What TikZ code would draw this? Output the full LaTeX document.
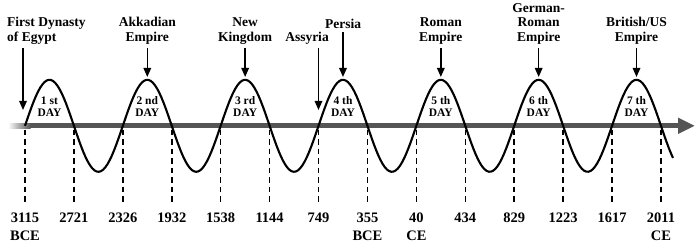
\documentclass[tikz,border=0pt]{standalone}
\usepackage{fontspec}
\setmainfont{Liberation Serif}
\usetikzlibrary{arrows.meta}

\definecolor{axisgray}{RGB}{85,85,85}

\tikzset{
  era/.style={font=\bfseries\fontsize{13.5}{14.5}\selectfont,align=center,inner sep=0pt,anchor=south},
  daylbl/.style={font=\bfseries\fontsize{11.5}{12.5}\selectfont,align=center,inner sep=0pt,anchor=south},
  yearlbl/.style={font=\bfseries\fontsize{14.5}{17.5}\selectfont,align=center,inner sep=0pt,anchor=north},
  pointer/.style={line width=1.5pt,shorten <=4pt,-{Triangle[length=9pt,width=7.5pt]}},
  tick/.style={line width=1.5pt,dash pattern=on 5.5pt off 4pt,shorten >=8pt},
  wave/.style={line width=2.1pt},
  axisline/.style={axisgray,line width=5pt,-{Triangle[length=17pt,width=15pt]}}
}

\begin{document}
\begin{tikzpicture}[x=1pt,y=-1pt]
\useasboundingbox (0,0) rectangle (700,251);

% time axis
\coordinate (ax0) at (30,125.8);
\coordinate (ax1) at (695,125.8);
\shade[left color=white,right color=axisgray] (8,123.3) rectangle (30.5,128.3);
\draw[axisline] (ax0) -- (ax1);

% the seven days (half period 48.92)
\draw[wave] plot[domain=25:673,samples=300] (\x,{125.8-46*sin(3.6795*(\x-25))});

% years under the crossings
\foreach \yr [count=\i from 0] in {{3115\\BCE},2721,2326,1932,1538,1144,749,{355\\BCE},{40\\CE},434,829,1223,1617,{2011\\CE}} {
  \coordinate (c\i) at ({25+48.92*\i},129.5);
  \node[yearlbl] (y\i) at ({25+48.92*\i},213) {\yr};
  \draw[tick] (c\i) -- (y\i.north);
}

% day labels and peaks
\foreach \s [count=\i from 1] in {st,nd,rd,th,th,th,th} {
  \coordinate (p\i) at ({49.46+97.84*(\i-1)},77);
  \node[daylbl] (d\i) at ({49.46+97.84*(\i-1)},117) {\i\ \s\\DAY};
}

% empires
\node[era,anchor=south west,align=left] (egypt) at (7,44.5) {First Dynasty\\of Egypt};
\node[era] (akkad) at (147.3,44.5) {Akkadian\\Empire};
\node[era] (newk) at (245.1,44.5) {New\\Kingdom};
\node[era] (assyria) at (307,44.5) {Assyria};
\node[era] (persia) at (343,28.5) {Persia};
\node[era] (rome) at (440.8,44.5) {Roman\\Empire};
\node[era] (german) at (538.7,44.5) {German-\\Roman\\Empire};
\node[era] (british) at (636.5,44.5) {British/US\\Empire};

\coordinate (t0) at (23,110);
\coordinate (t3) at (318.5,110);
\draw[pointer] (egypt.south -| t0) -- (t0);
\draw[pointer] (assyria.south -| t3) -- (t3);
\foreach \e/\p in {akkad/2,newk/3,persia/4,rome/5,german/6,british/7}
  \draw[pointer] (\e.south -| p\p) -- (p\p);
\end{tikzpicture}
\end{document}
